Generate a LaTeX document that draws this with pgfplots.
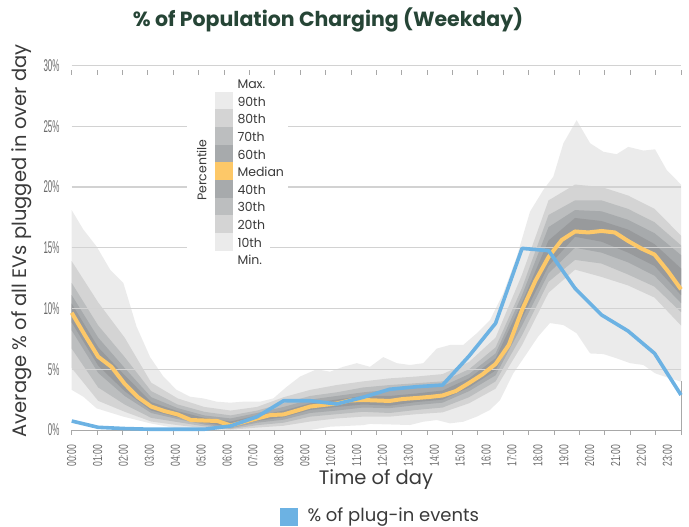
\documentclass[border=0pt]{standalone}
\usepackage{fontspec}
\setmainfont{Poppins}
\newfontfamily\tickfont{Liberation Sans}
\usepackage{graphicx}
\usepackage{pgfplots}
\pgfplotsset{compat=1.18}
\usepgfplotslibrary{fillbetween}
\usepackage{pgfplotstable}

\definecolor{cA}{HTML}{EBEBEB}
\definecolor{cB}{HTML}{D4D4D4}
\definecolor{cC}{HTML}{BCBEBF}
\definecolor{cD}{HTML}{A7AAAC}
\definecolor{cE}{HTML}{989A9C}
\definecolor{medc}{HTML}{FDC868}
\definecolor{bluec}{HTML}{6CB2E3}
\definecolor{gridc}{HTML}{D2D2D2}
\definecolor{tickc}{HTML}{6A6A6A}
\definecolor{titlec}{HTML}{264536}
\definecolor{labc}{HTML}{3A3A3A}

\newcommand\sy[1]{\scalebox{0.47}[1]{#1}}
\newcommand\sx[1]{\scalebox{0.66}[1]{#1}}

\pgfplotstableread{
x p90 p80 p70 p60 p40 p30 p20 p10
0 13.9 12.1 11.1 10.4 8.85 8.2 6.7 5.1
1 10.5 8.6 7.6 6.8 5.3 4.7 3.5 2.4
2 7.6 6.0 5.1 4.5 3.2 2.8 2.1 1.5
3 3.9 3.2 2.7 2.3 1.6 1.4 1.0 0.7
4 2.6 2.1 1.8 1.55 1.05 0.9 0.65 0.4
5 1.9 1.5 1.2 1.0 0.6 0.45 0.3 0.15
6 1.6 1.2 0.95 0.7 0.25 0.15 0.08 0.02
7 1.9 1.6 1.4 1.2 0.75 0.6 0.4 0.2
8 2.7 2.2 1.9 1.6 1.05 0.85 0.6 0.35
9 3.3 2.8 2.5 2.2 1.65 1.4 1.1 0.7
10 3.7 3.1 2.8 2.5 1.9 1.6 1.3 0.95
11 4.0 3.5 3.1 2.8 2.1 1.85 1.5 1.1
12 4.25 3.7 3.3 2.8 2.0 1.8 1.4 1.1
13 4.4 3.85 3.45 3.0 2.3 2.05 1.65 1.3
14 4.6 4.0 3.6 3.25 2.5 2.25 1.85 1.45
15 5.6 5.0 4.6 4.25 3.5 3.2 2.7 2.2
16 7.6 6.8 6.3 5.9 4.9 4.5 4.0 3.4
17 12.8 11.7 11.1 10.5 9.2 8.6 7.8 7.0
18 18.9 17.7 16.7 15.6 13.5 12.9 12.2 11.3
19 20.2 18.9 18.1 17.45 15.9 15.0 14.0 13.2
20 20.0 18.9 18.0 17.2 15.5 14.6 13.7 12.6
21 19.3 18.2 17.3 16.5 14.6 13.8 12.8 11.9
22 18.2 17.1 16.2 15.3 13.5 12.7 11.8 10.9
23 16.0 15.2 14.4 13.3 11.1 10.45 9.7 8.6
}\bands

\pgfplotstableread{
x y
0 18.1
0.44 16.5
0.94 15.1
1.45 13.2
1.95 12.1
2.45 8.5
2.96 6.0
3.46 4.4
3.96 3.3
4.47 2.74
4.97 2.6
5.47 2.33
5.98 2.25
6.48 2.33
7.11 2.33
7.61 2.6
8.12 3.56
8.62 4.4
9.25 5.0
9.75 4.8
10.25 5.2
10.76 5.5
11.26 5.2
11.76 6.0
12.27 5.5
12.77 5.35
13.27 5.5
13.78 6.7
14.28 7.0
14.78 7.0
15.29 7.96
15.79 9.05
16.29 11.25
16.80 14.26
17.30 17.97
17.80 19.75
18.18 20.85
18.56 23.6
19.06 25.5
19.57 23.6
20.07 22.9
20.57 22.7
21.01 23.3
21.58 23.0
22.02 23.1
22.46 21.4
23.0 20.2
}\maxdata

\pgfplotstableread{
x y
0 3.3
0.44 2.74
0.94 1.78
1.95 1.1
2.96 0.55
3.96 0.14
4.84 0.0
9.0 0.0
9.75 0.27
11.0 0.4
11.26 0.5
12.77 0.41
13.27 0.68
13.78 0.82
14.28 0.55
14.78 0.68
15.29 1.1
15.79 1.65
16.17 2.47
16.67 4.67
17.18 6.3
17.61 7.7
18.05 8.8
18.56 8.64
19.06 7.96
19.57 6.3
20.07 6.25
20.57 5.9
21.08 5.5
21.58 5.35
22.02 4.67
22.59 4.25
23.0 3.98
}\mindata

\pgfplotstableread{
x y
0 9.65
0.5 7.8
1 6.03
1.5 5.2
2 3.8
2.5 2.7
3 1.93
3.5 1.56
4 1.28
4.5 0.82
5 0.78
5.5 0.74
6 0.37
6.5 0.66
7 0.95
7.5 1.23
8 1.28
8.5 1.6
9 1.93
9.5 2.06
10 2.18
10.5 2.43
11 2.47
11.5 2.43
12 2.39
12.5 2.55
13 2.63
13.5 2.72
14 2.84
14.5 3.21
15 3.87
15.5 4.57
16 5.43
16.5 7.0
17 9.88
17.5 12.26
18 14.24
18.5 15.64
19 16.34
19.5 16.26
20 16.38
20.5 16.26
21 15.56
21.5 14.94
22 14.44
22.5 13.09
23 11.58
}\meddata

\pgfplotstableread{
x y
0 0.74
1 0.22
2 0.12
3 0.06
4 0.06
5 0.06
6 0.33
7 1.09
8 2.41
9 2.41
10 2.14
11 2.69
12 3.35
13 3.56
14 3.7
15 6.09
16 8.78
17 14.95
18 14.76
19 11.66
20 9.47
21 8.15
22 6.31
23 2.88
}\bluedata

\begin{document}
\begin{tikzpicture}
\begin{axis}[
  at={(0,0)}, anchor=south west, scale only axis,
  width=609.3bp, height=364.5bp,
  xmin=0, xmax=23, ymin=0, ymax=30,
  clip=false, no markers,
  axis line style={draw=none},
  xtick={0,0.9583,1.9167,2.875,3.8333,4.7917,5.75,6.7083,7.6667,8.625,9.5833,10.5417,11.5,12.4583,13.4167,14.375,15.3333,16.2917,17.25,18.2083,19.1667,20.125,21.0833,22.0417,23},
  xticklabels={},
  major tick length=5bp,
  xtick style={draw=gridc!80!black, line width=0.9bp, yshift=-5bp},
  extra x ticks={0,0.978,1.955,2.933,3.911,4.888,5.866,6.844,7.821,8.799,9.777,10.754,11.732,12.71,13.687,14.665,15.643,16.62,17.598,18.576,19.553,20.531,21.509,22.486},
  extra x tick labels={\sx{00:00},\sx{01:00},\sx{02:00},\sx{03:00},\sx{04:00},\sx{05:00},\sx{06:00},\sx{07:00},\sx{08:00},\sx{09:00},\sx{10:00},\sx{11:00},\sx{12:00},\sx{13:00},\sx{14:00},\sx{15:00},\sx{16:00},\sx{17:00},\sx{18:00},\sx{19:00},\sx{20:00},\sx{21:00},\sx{22:00},\sx{23:00}},
  extra x tick style={major tick length=0pt, tick style={draw=none}},
  xticklabel style={rotate=90, anchor=east, inner ysep=0pt, inner xsep=15bp, text=tickc, font=\tickfont\fontsize{13bp}{13bp}\selectfont},
  ytick={0,5,10,15,20,25,30},
  yticklabels={\sy{0\%},\sy{5\%},\sy{10\%},\sy{15\%},\sy{20\%},\sy{25\%},\sy{30\%}},
  ytick style={draw=none},
  yticklabel style={anchor=east, inner sep=0pt, xshift=-12bp, text=tickc, font=\tickfont\fontsize{17bp}{17bp}\selectfont},
]
\addplot[name path=pmax, draw=none] table[x=x,y=y]{\maxdata};
\addplot[name path=pmin, draw=none] table[x=x,y=y]{\mindata};
\addplot[name path=p90, draw=none] table[x=x,y=p90]{\bands};
\addplot[name path=p80, draw=none] table[x=x,y=p80]{\bands};
\addplot[name path=p70, draw=none] table[x=x,y=p70]{\bands};
\addplot[name path=p60, draw=none] table[x=x,y=p60]{\bands};
\addplot[name path=p40, draw=none] table[x=x,y=p40]{\bands};
\addplot[name path=p30, draw=none] table[x=x,y=p30]{\bands};
\addplot[name path=p20, draw=none] table[x=x,y=p20]{\bands};
\addplot[name path=p10, draw=none] table[x=x,y=p10]{\bands};
\addplot[fill=cA, draw=none] fill between[of=pmax and pmin];
\addplot[fill=cB, draw=none] fill between[of=p90 and p10];
\addplot[fill=cC, draw=none] fill between[of=p80 and p20];
\addplot[fill=cD, draw=none] fill between[of=p70 and p30];
\addplot[fill=cE, draw=none] fill between[of=p60 and p40];
\draw[gridc, line width=1.2bp] (axis cs:0,5) -- (axis cs:23,5);
\draw[gridc, line width=1.2bp] (axis cs:0,10) -- (axis cs:23,10);
\draw[gridc, line width=1.2bp] (axis cs:0,15) -- (axis cs:23,15);
\draw[gridc, line width=1.2bp] (axis cs:0,20) -- (axis cs:23,20);
\draw[gridc, line width=1.2bp] (axis cs:0,25) -- (axis cs:23,25);
\draw[gridc, line width=1.2bp] (axis cs:0,30) -- (axis cs:23,30);
\draw[gridc!80!black, line width=0.9bp] (axis cs:0,0) -- (axis cs:23,0) -- (axis cs:23,4);
\addplot[medc, line width=4bp, line join=round] table[x=x,y=y]{\meddata};
\addplot[bluec, line width=3.6bp, line join=round] table[x=x,y=y]{\bluedata};
\end{axis}
% inset legend
\fill[white] (115.3bp,194bp) rectangle (216.3bp,355bp);
\fill[white] (115.3bp,160bp) rectangle (198.3bp,194bp);
\fill[cA] (143.3bp,338.3bp) rectangle (161bp,320.63bp);
\fill[cB] (143.3bp,320.63bp) rectangle (161bp,302.97bp);
\fill[cC] (143.3bp,302.97bp) rectangle (161bp,285.3bp);
\fill[cD] (143.3bp,285.3bp) rectangle (161bp,267.63bp);
\fill[medc] (143.3bp,267.63bp) rectangle (161bp,249.97bp);
\fill[cD] (143.3bp,249.97bp) rectangle (161bp,232.3bp);
\fill[cC] (143.3bp,232.3bp) rectangle (161bp,214.63bp);
\fill[cB] (143.3bp,214.63bp) rectangle (161bp,196.97bp);
\fill[cA] (143.3bp,196.97bp) rectangle (161bp,179.3bp);
\begin{scope}[every node/.style={anchor=west, inner sep=0pt, text=labc, font=\fontsize{12.5bp}{13bp}\selectfont}]
\node at (165.6bp,346bp) {Max.};
\node at (165.6bp,328.4bp) {90th};
\node at (165.6bp,310.8bp) {80th};
\node at (165.6bp,293.2bp) {70th};
\node at (165.6bp,275.6bp) {60th};
\node at (165.6bp,258bp) {Median};
\node at (165.6bp,240.4bp) {40th};
\node at (165.6bp,222.8bp) {30th};
\node at (165.6bp,205.2bp) {20th};
\node at (165.6bp,187.6bp) {10th};
\node at (165.6bp,170bp) {Min.};
\end{scope}
\node[rotate=90, text=labc, inner sep=0pt, font=\fontsize{12.5bp}{13bp}\selectfont] at (130bp,260bp) {Percentile};
% titles
\node[text=titlec, inner sep=0pt, font=\bfseries\fontsize{20.5bp}{21bp}\selectfont] at (256.3bp,410bp) {\% of Population Charging (Weekday)};
\node[rotate=90, text=labc, inner sep=0pt, font=\fontsize{19.5bp}{20bp}\selectfont] at (-49.7bp,189bp) {Average \% of all EVs plugged in over day};
\node[text=labc, inner sep=0pt, font=\fontsize{19.5bp}{20bp}\selectfont] at (304.3bp,-50bp) {Time of day};
% bottom legend
\fill[bluec] (208.3bp,-78.3bp) rectangle (226bp,-95.7bp);
\node[anchor=west, text=labc, inner sep=0pt, font=\fontsize{18bp}{19bp}\selectfont] at (235.6bp,-87bp) {\% of plug-in events};
\pgfresetboundingbox
\path[use as bounding box] (-71.7bp,-97bp) rectangle (617.3bp,430bp);
\end{tikzpicture}
\end{document}
